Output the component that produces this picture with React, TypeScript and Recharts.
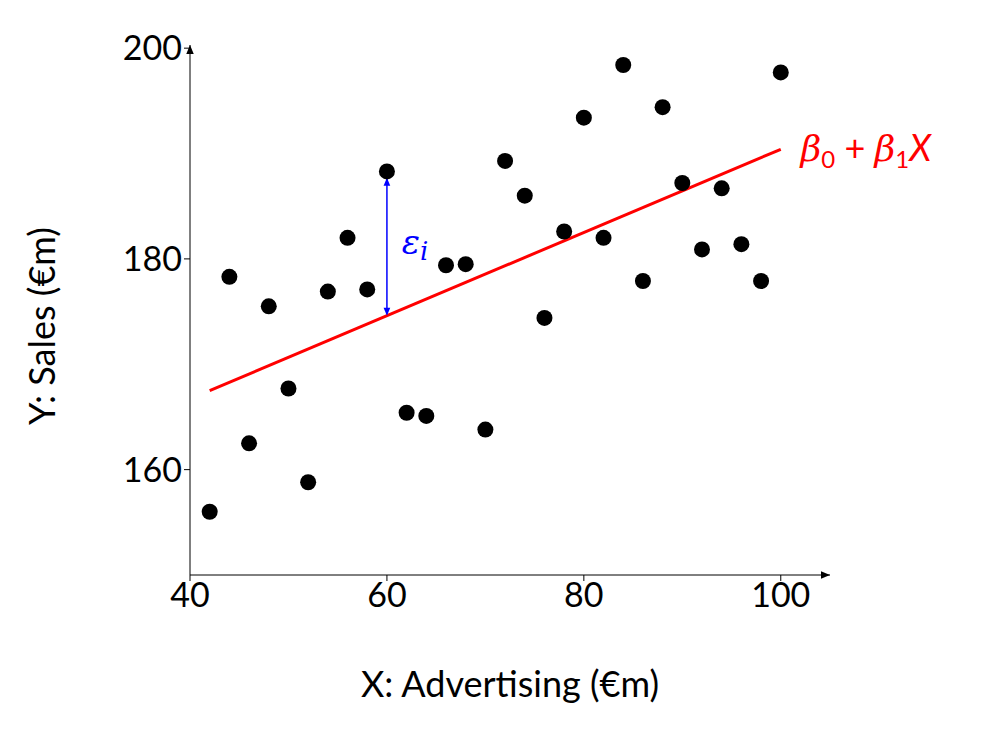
import { ComposedChart, Scatter, XAxis, YAxis, ReferenceLine, ReferenceDot } from "recharts";

const advertising = [42, 44, 46, 48, 50, 52, 54, 56, 58, 60, 62, 64, 66, 68, 70, 72, 74, 76, 78, 80, 82, 84, 86, 88, 90, 92, 94, 96, 98, 100];
const sales = [156.0, 178.3, 162.5, 175.5, 167.7, 158.8, 176.9, 182.0, 177.1, 188.3, 165.4, 165.1, 179.4, 179.5, 163.8, 189.3, 186.0, 174.4, 182.6, 193.4, 182.0, 198.4, 177.9, 194.4, 187.2, 180.9, 186.7, 181.4, 177.9, 197.7];
const fitX = [42, 100];
const fitY = [167.5, 190.4];
const xTicks = [40, 60, 80, 100];
const yTicks = [160, 180, 200];
const residualX = 60;
const residualTop = 188.3;
const residualBottom = 174.6;

const points = advertising.map((x, i) => ({ x, y: sales[i] }));
const fit = fitX.map((x, i) => ({ x, y: fitY[i] }));

const FONT = "Lato, 'Open Sans', sans-serif";

const Arrow = ({ cx, cy, dir, color, size = 9 }: any) => {
  const pts =
    dir === "right" ? `${cx},${cy} ${cx - size},${cy - size / 2.4} ${cx - size},${cy + size / 2.4}` :
    dir === "up" ? `${cx},${cy} ${cx - size / 2.4},${cy + size} ${cx + size / 2.4},${cy + size}` :
    `${cx},${cy} ${cx - size / 2.4},${cy - size} ${cx + size / 2.4},${cy - size}`;
  return <polygon points={pts} fill={color} />;
};

const App = () => (
  <ComposedChart width={996} height={735} margin={{ top: 37, right: 174, bottom: 108, left: 102 }}>
    <XAxis
      type="number" dataKey="x" domain={[40, 105]} ticks={xTicks} allowDataOverflow
      stroke="#000" tick={{ fill: "#000", fontSize: 34, fontFamily: FONT }} tickSize={6} height={60}
      label={{ value: "X:  Advertising (€m)", position: "insideBottom", offset: -62, fill: "#000", fontSize: 36, fontFamily: FONT }}
    />
    <YAxis
      type="number" dataKey="y" domain={[150, 200.3]} ticks={yTicks} allowDataOverflow
      stroke="#000" tick={{ fill: "#000", fontSize: 34, fontFamily: FONT }} tickSize={6} width={80}
      label={{ value: "Y:  Sales (€m)", angle: -90, position: "insideLeft", offset: -68, dy: 115, fill: "#000", fontSize: 36, fontFamily: FONT }}
    />
    <ReferenceDot x={105} y={150} r={0} shape={(p: any) => <Arrow {...p} dir="right" color="#000" />} ifOverflow="visible" />
    <ReferenceDot x={40} y={200.3} r={0} shape={(p: any) => <Arrow {...p} dir="up" color="#000" />} ifOverflow="visible" />
    <Scatter data={fit} line={{ stroke: "#ff0000", strokeWidth: 3 }} shape={() => null} isAnimationActive={false} />
    <ReferenceLine segment={[{ x: residualX, y: residualTop - 0.6 }, { x: residualX, y: residualBottom + 0.2 }]} stroke="#0000ff" strokeWidth={1.5} />
    <ReferenceDot x={residualX} y={residualTop - 0.6} r={0} shape={(p: any) => <Arrow {...p} dir="up" color="#0000ff" size={8} />} />
    <ReferenceDot x={residualX} y={residualBottom} r={0} shape={(p: any) => <Arrow {...p} dir="down" color="#0000ff" size={8} />} />
    <Scatter data={points} fill="#000" shape={(p: any) => <circle cx={p.cx} cy={p.cy} r={8} fill="#000" />} isAnimationActive={false} />
    <ReferenceDot x={61.5} y={180.5} r={0} ifOverflow="visible"
      shape={(p: any) => (
        <text x={p.cx} y={p.cy} fill="#0000ff" fontSize={34} fontFamily="'DejaVu Serif', serif" fontStyle="italic">
          ε<tspan fontSize={26} dy={6}>i</tspan>
        </text>
      )} />
    <ReferenceDot x={102} y={190.4} r={0} ifOverflow="visible"
      shape={(p: any) => (
        <text x={p.cx} y={p.cy + 12} fill="#ff0000" fontSize={36} fontFamily={FONT}>
          <tspan fontStyle="italic" fontFamily="'DejaVu Serif', serif">β</tspan>
          <tspan fontSize={24} dy={7}>0</tspan>
          <tspan dy={-7}> + </tspan>
          <tspan fontStyle="italic" fontFamily="'DejaVu Serif', serif">β</tspan>
          <tspan fontSize={24} dy={7}>1</tspan>
          <tspan fontStyle="italic" dy={-7}>X</tspan>
        </text>
      )} />
  </ComposedChart>
);

export default App;
